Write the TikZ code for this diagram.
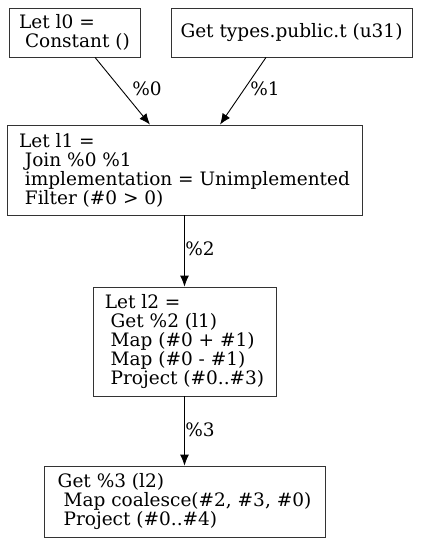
\documentclass[tikz,border=0pt]{standalone}
\usepackage{fontspec}
\setmainfont{DejaVu Serif}
\usetikzlibrary{positioning,arrows.meta}

\begin{document}
\begin{tikzpicture}
[x=1pt, y=-1pt,
% The plan style is used for every box of the query plan
plan/.style={rectangle, draw, thick, draw=black!80, align=left, inner sep=0pt, font=\fontsize{18.5}{19}\selectfont},
% The flow style is used for the edges between boxes
flow/.style={-{Latex[length=11pt,width=9pt]}, line width=0.9pt},
% The tag style is used for the edge labels
tag/.style={font=\fontsize{18.5}{19}\selectfont, inner sep=0pt}
]
\useasboundingbox (0,0) rectangle (422,543);
% Draw boxes
\node[plan, minimum width=131pt, minimum height=49pt] (l0) at (74.5,32.5) {Let l0 =\\\ Constant ()};
\node[plan, minimum width=241pt, minimum height=49pt] (get) at (291.5,32.5) {Get types.public.t (u31)};
\node[plan, minimum width=355pt, minimum height=90pt] (l1) at (184.5,170) {Let l1 =\\\ Join \%0 \%1\\\ implementation = Unimplemented\\\ Filter (\#0 > 0)};
\node[plan, minimum width=183pt, minimum height=109pt] (l2) at (184.5,341.5) {Let l2 =\\\ Get \%2 (l1)\\\ Map (\#0 + \#1)\\\ Map (\#0 - \#1)\\\ Project (\#0..\#3)};
\node[plan, minimum width=281pt, minimum height=71pt] (out) at (184.5,501.5) {Get \%3 (l2)\\\ Map coalesce(\#2, \#3, \#0)\\\ Project (\#0..\#4)};
% Draw edges
\draw[flow] ([xshift=20.5pt]l0.south) -- ([xshift=-34.5pt]l1.north);
\draw[flow] ([xshift=-25.5pt]get.south) -- ([xshift=35.5pt]l1.north);
\draw[flow] (l1) -- (l2);
\draw[flow] (l2) -- (out);
\node[tag] (t0) at (147,89) {\%0};
\node[tag] (t1) at (265,89) {\%1};
\node[tag] (t2) at (200,249) {\%2};
\node[tag] (t3) at (200,430) {\%3};
\end{tikzpicture}
\end{document}
